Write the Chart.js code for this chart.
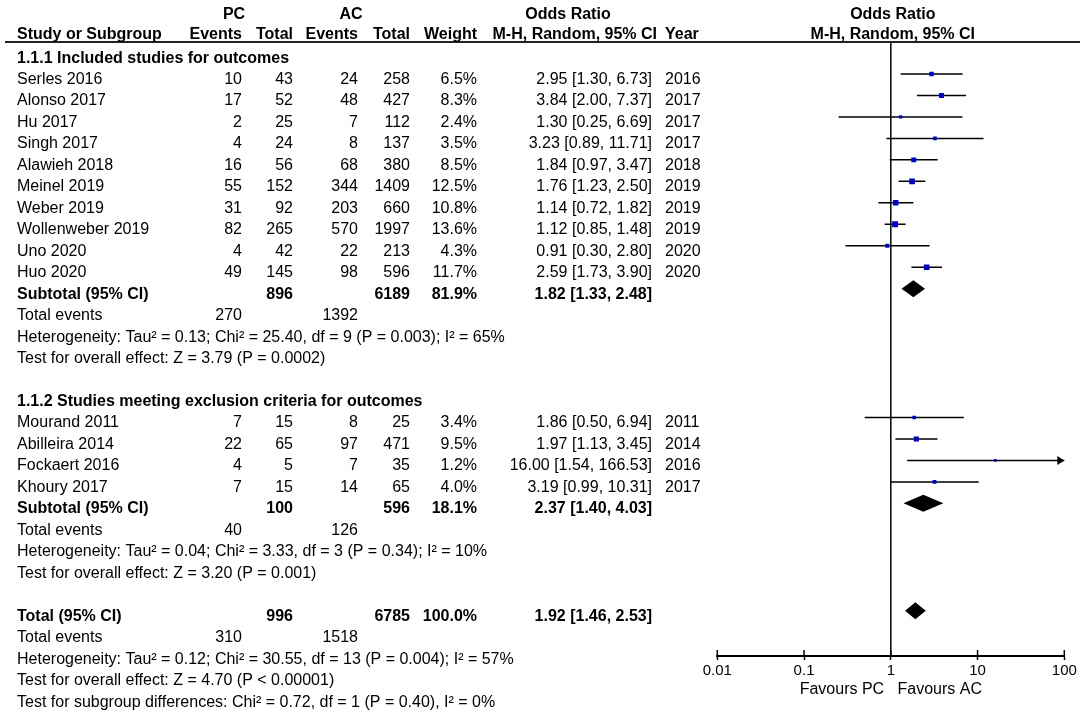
<!DOCTYPE html>
<html><head><meta charset="utf-8">
<script src="https://cdn.jsdelivr.net/npm/chart.js@4.4.1/dist/chart.umd.min.js"></script>
<style>html,body{margin:0;padding:0;background:#fff;overflow:hidden}canvas{display:block}</style>
</head><body>
<canvas id="c" width="1084" height="712"></canvas>
<script>
// ---------------- data ----------------
const studyNames = ['Serles 2016','Alonso 2017','Hu 2017','Singh 2017','Alawieh 2018','Meinel 2019','Weber 2019','Wollenweber 2019','Uno 2020','Huo 2020','Mourand 2011','Abilleira 2014','Fockaert 2016','Khoury 2017'];
const studyGroup = [0,0,0,0,0,0,0,0,0,0,1,1,1,1];
const pcEvents = [10,17,2,4,16,55,31,82,4,49,7,22,4,7];
const pcTotal = [43,52,25,24,56,152,92,265,42,145,15,65,5,15];
const acEvents = [24,48,7,8,68,344,203,570,22,98,8,97,7,14];
const acTotal = [258,427,112,137,380,1409,660,1997,213,596,25,471,35,65];
const weightPct = [6.5,8.3,2.4,3.5,8.5,12.5,10.8,13.6,4.3,11.7,3.4,9.5,1.2,4.0];
const orEst = [2.95,3.84,1.30,3.23,1.84,1.76,1.14,1.12,0.91,2.59,1.86,1.97,16.00,3.19];
const orLow = [1.30,2.00,0.25,0.89,0.97,1.23,0.72,0.85,0.30,1.73,0.50,1.13,1.54,0.99];
const orHigh = [6.73,7.37,6.69,11.71,3.47,2.50,1.82,1.48,2.80,3.90,6.94,3.45,166.53,10.31];
const studyYears = [2016,2017,2017,2017,2018,2019,2019,2019,2020,2020,2011,2014,2016,2017];

const groupTitles = ['1.1.1 Included studies for outcomes','1.1.2 Studies meeting exclusion criteria for outcomes'];
const groupPcTotal = [896,100];
const groupAcTotal = [6189,596];
const groupPcEvents = [270,40];
const groupAcEvents = [1392,126];
const groupWeight = [81.9,18.1];
const groupOr = [1.82,2.37];
const groupLow = [1.33,1.40];
const groupHigh = [2.48,4.03];
const groupHeterogeneity = ['Heterogeneity: Tau\u00b2 = 0.13; Chi\u00b2 = 25.40, df = 9 (P = 0.003); I\u00b2 = 65%','Heterogeneity: Tau\u00b2 = 0.04; Chi\u00b2 = 3.33, df = 3 (P = 0.34); I\u00b2 = 10%'];
const groupOverallTest = ['Test for overall effect: Z = 3.79 (P = 0.0002)','Test for overall effect: Z = 3.20 (P = 0.001)'];

const totalPc = 996;
const totalAc = 6785;
const totalWeight = 100.0;
const totalOr = [1.92, 1.46, 2.53];
const totalEvents = [310, 1518];
const totalNotes = ['Heterogeneity: Tau\u00b2 = 0.12; Chi\u00b2 = 30.55, df = 13 (P = 0.004); I\u00b2 = 57%','Test for overall effect: Z = 4.70 (P < 0.00001)','Test for subgroup differences: Chi\u00b2 = 0.72, df = 1 (P = 0.40), I\u00b2 = 0%'];

const xTicks = [0.01,0.1,1,10,100];
const xTickLabels = ['0.01','0.1','1','10','100'];
const axisTitle = 'Favours PC   Favours AC';

// ---------------- layout ----------------
const W = 1084, H = 712;
const FONT = '"Liberation Sans", Arial, Helvetica, sans-serif';
const ROW0 = 52.5, STEP = 21.47, TOP = 44, BOTTOM = 656;
const PLOT_L = 717.3, PLOT_R = 1064.3;
const COL = {name:17, pcE:242, pcT:293, acE:358, acT:410, wt:477, or:652, orHead:657, year:665};
const TEXT_DY = 10;

// row indices
const studyRow = [], groupTitleRow = [], groupSubRow = [];
let r = 0;
for (let g = 0; g < groupTitles.length; g++) {
  groupTitleRow[g] = r++;
  studyNames.forEach((_, i) => { if (studyGroup[i] === g) studyRow[i] = r++; });
  groupSubRow[g] = r; r += 4; r++;
}
const totalRow = r;

const fmtOr = (e, l, h) => e.toFixed(2) + ' [' + l.toFixed(2) + ', ' + h.toFixed(2) + ']';
const boxSide = w => 1.3 + 1.25 * Math.sqrt(w);

function txt(ctx, s, x, y, align, bold, size) {
  ctx.font = (bold ? 'bold ' : '') + (size || 16) + 'px ' + FONT;
  ctx.textAlign = align || 'left';
  ctx.textBaseline = 'alphabetic';
  ctx.fillStyle = '#000';
  ctx.fillText(s, x, y);
}

const forestPlugin = {
  id: 'forest',
  beforeDatasetsDraw(chart) {
    const {ctx, chartArea, scales: {x}} = chart;
    const px = x.getPixelForValue(1);
    ctx.save();
    ctx.strokeStyle = '#000'; ctx.lineWidth = 1.5;
    ctx.beginPath(); ctx.moveTo(px, chartArea.top - 1); ctx.lineTo(px, chartArea.bottom); ctx.stroke();
    ctx.restore();
  },
  afterDatasetsDraw(chart) {
    const {ctx, chartArea, scales: {x, y}} = chart;
    ctx.save();
    const diamond = (e, l, h, row) => {
      const py = y.getPixelForValue(row), hh = 8.5;
      ctx.beginPath();
      ctx.moveTo(x.getPixelForValue(l), py);
      ctx.lineTo(x.getPixelForValue(e), py - hh);
      ctx.lineTo(x.getPixelForValue(h), py);
      ctx.lineTo(x.getPixelForValue(e), py + hh);
      ctx.closePath();
      ctx.fillStyle = '#000'; ctx.fill();
    };
    groupOr.forEach((e, g) => diamond(e, groupLow[g], groupHigh[g], groupSubRow[g]));
    diamond(totalOr[0], totalOr[1], totalOr[2], totalRow);
    orHigh.forEach((h, i) => {
      if (h > x.max) {
        const py = y.getPixelForValue(studyRow[i]), tip = chartArea.right;
        ctx.beginPath(); ctx.moveTo(tip, py); ctx.lineTo(tip - 7, py - 4.5); ctx.lineTo(tip - 7, py + 4.5); ctx.closePath();
        ctx.fillStyle = '#000'; ctx.fill();
      }
    });
    ctx.restore();
  },
  afterDraw(chart) {
    const {ctx, chartArea, scales: {x, y}} = chart;
    ctx.save();
    ctx.strokeStyle = '#000'; ctx.lineWidth = 1.5;
    x.ticks.forEach(t => {
      const px = x.getPixelForValue(t.value);
      ctx.beginPath(); ctx.moveTo(px, chartArea.bottom - 6); ctx.lineTo(px, chartArea.bottom); ctx.stroke();
    });
    ctx.strokeStyle = '#222'; ctx.lineWidth = 2;
    ctx.beginPath(); ctx.moveTo(5, 42); ctx.lineTo(1080, 42); ctx.stroke();
    const h1 = 18.5, h2 = 38.5;
    const mid = x.getPixelForValue(1) + 2;
    txt(ctx, 'PC', 234, h1, 'center', true);
    txt(ctx, 'AC', 351, h1, 'center', true);
    txt(ctx, 'Odds Ratio', 568, h1, 'center', true);
    txt(ctx, 'Odds Ratio', mid, h1, 'center', true);
    txt(ctx, 'Study or Subgroup', COL.name, h2, 'left', true);
    txt(ctx, 'Events', COL.pcE, h2, 'right', true);
    txt(ctx, 'Total', COL.pcT, h2, 'right', true);
    txt(ctx, 'Events', COL.acE, h2, 'right', true);
    txt(ctx, 'Total', COL.acT, h2, 'right', true);
    txt(ctx, 'Weight', COL.wt, h2, 'right', true);
    txt(ctx, 'M-H, Random, 95% CI', COL.orHead, h2, 'right', true);
    txt(ctx, 'Year', COL.year, h2, 'left', true);
    txt(ctx, 'M-H, Random, 95% CI', mid, h2, 'center', true);
    const ty = row => y.getPixelForValue(row) + TEXT_DY;
    studyNames.forEach((n, i) => {
      const yy = ty(studyRow[i]);
      txt(ctx, n, COL.name, yy);
      txt(ctx, String(pcEvents[i]), COL.pcE, yy, 'right');
      txt(ctx, String(pcTotal[i]), COL.pcT, yy, 'right');
      txt(ctx, String(acEvents[i]), COL.acE, yy, 'right');
      txt(ctx, String(acTotal[i]), COL.acT, yy, 'right');
      txt(ctx, weightPct[i].toFixed(1) + '%', COL.wt, yy, 'right');
      txt(ctx, fmtOr(orEst[i], orLow[i], orHigh[i]), COL.or, yy, 'right');
      txt(ctx, String(studyYears[i]), COL.year, yy, 'left');
    });
    groupTitles.forEach((t, g) => {
      txt(ctx, t, COL.name, ty(groupTitleRow[g]), 'left', true);
      const s = groupSubRow[g];
      let yy = ty(s);
      txt(ctx, 'Subtotal (95% CI)', COL.name, yy, 'left', true);
      txt(ctx, String(groupPcTotal[g]), COL.pcT, yy, 'right', true);
      txt(ctx, String(groupAcTotal[g]), COL.acT, yy, 'right', true);
      txt(ctx, groupWeight[g].toFixed(1) + '%', COL.wt, yy, 'right', true);
      txt(ctx, fmtOr(groupOr[g], groupLow[g], groupHigh[g]), COL.or, yy, 'right', true);
      yy = ty(s + 1);
      txt(ctx, 'Total events', COL.name, yy);
      txt(ctx, String(groupPcEvents[g]), COL.pcE, yy, 'right');
      txt(ctx, String(groupAcEvents[g]), COL.acE, yy, 'right');
      txt(ctx, groupHeterogeneity[g], COL.name, ty(s + 2));
      txt(ctx, groupOverallTest[g], COL.name, ty(s + 3));
    });
    let yy = ty(totalRow);
    txt(ctx, 'Total (95% CI)', COL.name, yy, 'left', true);
    txt(ctx, String(totalPc), COL.pcT, yy, 'right', true);
    txt(ctx, String(totalAc), COL.acT, yy, 'right', true);
    txt(ctx, totalWeight.toFixed(1) + '%', COL.wt, yy, 'right', true);
    txt(ctx, fmtOr(totalOr[0], totalOr[1], totalOr[2]), COL.or, yy, 'right', true);
    yy = ty(totalRow + 1);
    txt(ctx, 'Total events', COL.name, yy);
    txt(ctx, String(totalEvents[0]), COL.pcE, yy, 'right');
    txt(ctx, String(totalEvents[1]), COL.acE, yy, 'right');
    totalNotes.forEach((t, k) => txt(ctx, t, COL.name, ty(totalRow + 2 + k)));
    ctx.restore();
  }
};

const datasets = [{
  label: 'Study OR',
  data: studyNames.map((_, i) => ({x: orEst[i], y: studyRow[i]})),
  pointStyle: 'rect',
  pointRadius: c => boxSide(weightPct[c.dataIndex]) / Math.SQRT2,
  backgroundColor: '#0000cc',
  borderWidth: 0,
  order: 0
}];
studyNames.forEach((n, i) => {
  datasets.push({
    label: n + ' CI',
    data: [{x: orLow[i], y: studyRow[i]}, {x: orHigh[i], y: studyRow[i]}],
    showLine: true,
    borderColor: '#000',
    borderWidth: 1.5,
    pointRadius: 0,
    fill: false,
    order: 1
  });
});

new Chart(document.getElementById('c'), {
  type: 'scatter',
  data: {datasets},
  options: {
    responsive: false,
    animation: false,
    events: [],
    layout: {padding: {left: PLOT_L, right: W - PLOT_R, top: TOP, bottom: 0}},
    plugins: {legend: {display: false}, tooltip: {enabled: false}},
    scales: {
      x: {
        type: 'logarithmic',
        position: 'bottom',
        min: 0.01, max: 100,
        afterBuildTicks: s => { s.ticks = xTicks.map(v => ({value: v})); },
        afterFit: s => { s.height = H - BOTTOM; },
        ticks: {
          callback: (v, i) => xTickLabels[i],
          autoSkip: false, maxRotation: 0, padding: 2,
          color: '#000', font: {family: FONT, size: 15}
        },
        grid: {display: true, drawOnChartArea: false, drawTicks: true, tickLength: 4, tickColor: '#000', tickWidth: 1.5},
        border: {display: true, color: '#000', width: 2},
        title: {display: true, text: axisTitle, color: '#000', font: {family: FONT, size: 16}, padding: {top: 0, bottom: 13}}
      },
      y: {
        type: 'linear',
        display: false,
        reverse: true,
        min: (TOP - ROW0) / STEP,
        max: (BOTTOM - ROW0) / STEP
      }
    }
  },
  plugins: [forestPlugin]
});
</script>
</body></html>
